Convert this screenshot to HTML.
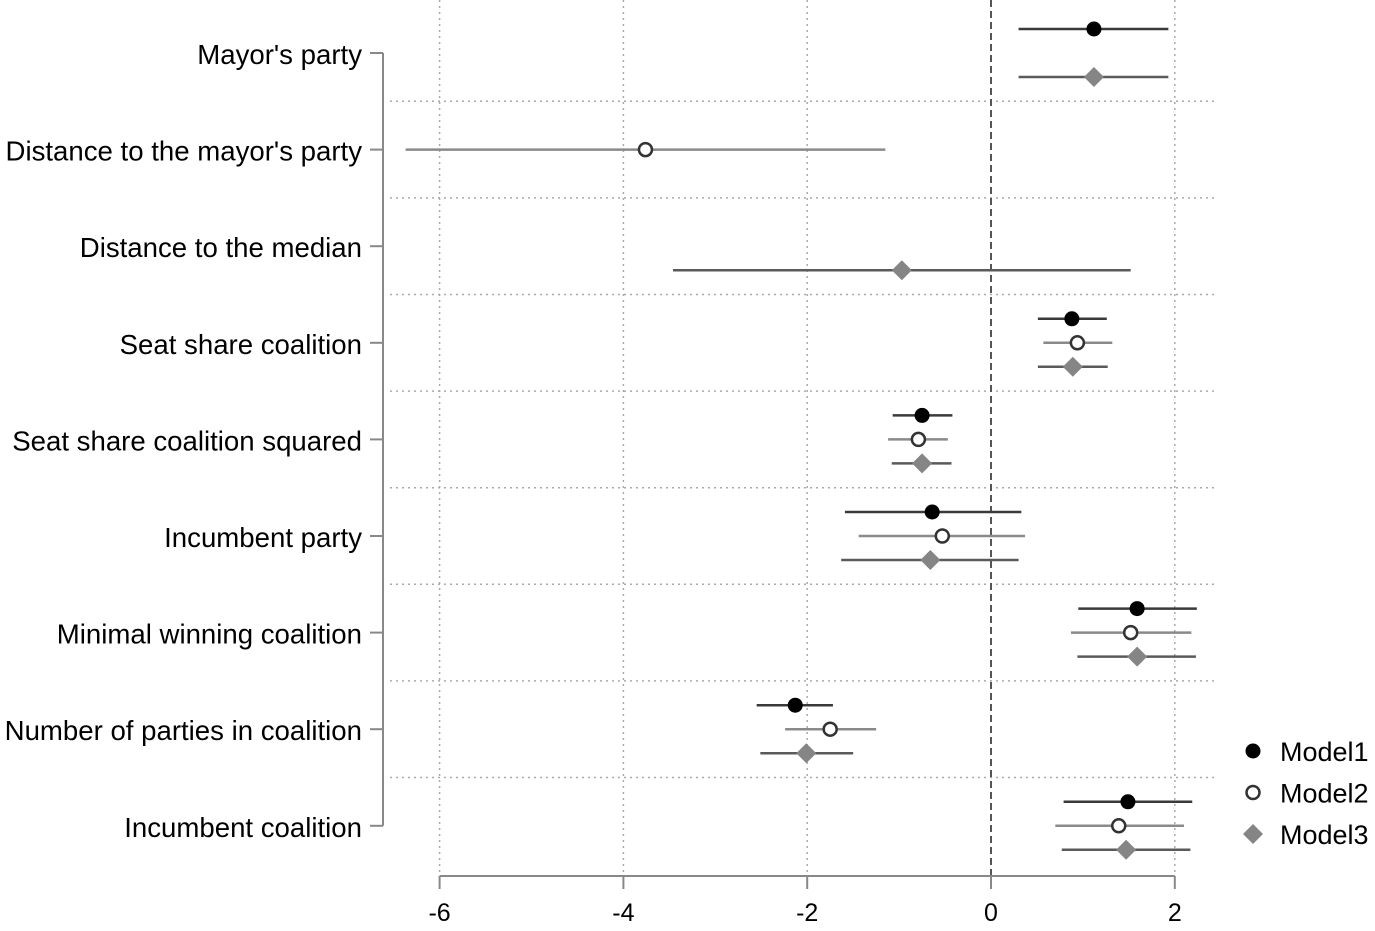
<!DOCTYPE html>
<html><head><meta charset="utf-8"><style>
html,body{margin:0;padding:0;background:#fff;}
svg text{font-family:"Liberation Sans",Arial,sans-serif;fill:#000;}
</style></head><body>
<svg id="chart" width="1375" height="926" viewBox="0 0 1375 926" xmlns="http://www.w3.org/2000/svg"></svg>
<script>
const categories=["Mayor's party","Distance to the mayor's party","Distance to the median","Seat share coalition","Seat share coalition squared","Incumbent party","Minimal winning coalition","Number of parties in coalition","Incumbent coalition"];
const models=["Model1","Model2","Model3"];
// [estimate, low, high] per category; null = not in model
const model1=[[1.12,0.30,1.93],null,null,[0.88,0.51,1.26],[-0.75,-1.07,-0.42],[-0.64,-1.59,0.33],[1.59,0.95,2.24],[-2.13,-2.55,-1.72],[1.49,0.79,2.19]];
const model2=[null,[-3.76,-6.37,-1.15],null,[0.94,0.57,1.32],[-0.79,-1.12,-0.47],[-0.53,-1.44,0.37],[1.52,0.87,2.18],[-1.75,-2.24,-1.25],[1.39,0.70,2.10]];
const model3=[[1.12,0.30,1.93],null,[-0.97,-3.46,1.52],[0.89,0.51,1.27],[-0.75,-1.08,-0.43],[-0.66,-1.63,0.30],[1.59,0.94,2.23],[-2.01,-2.51,-1.50],[1.47,0.77,2.17]];
const xTicks=[-6,-4,-2,0,2];
const NS="http://www.w3.org/2000/svg";
const svg=document.getElementById('chart');
const X=v=>991+v*91.9;
const Yc=i=>53+i*96.6;
function el(t,a,p){const e=document.createElementNS(NS,t);for(const k in a)e.setAttribute(k,a[k]);(p||svg).appendChild(e);return e;}
xTicks.forEach(t=>{
 if(t!==0){const g=el('line',{x1:X(t),x2:X(t),y1:0,y2:876,stroke:'#aaa','stroke-width':1.5,'stroke-dasharray':'2,4'});
 
 }
});
for(let i=0;i<categories.length-1;i++){
 const y=(Yc(i)+Yc(i+1))/2;
 const g=el('line',{x1:390,x2:1217,y1:y,y2:y,stroke:'#aaa','stroke-width':1.5,'stroke-dasharray':'2,4'});
 
 
}
const z=el('line',{x1:X(0),x2:X(0),y1:0,y2:876,stroke:'#555','stroke-width':2,'stroke-dasharray':'7,4'});


const ya=el('line',{x1:383,x2:383,y1:Yc(0),y2:Yc(8),stroke:'#888','stroke-width':2});


categories.forEach((c,i)=>{
 const tk=el('line',{x1:370,x2:383,y1:Yc(i),y2:Yc(i),stroke:'#888','stroke-width':2});
 
 
 const t=el('text',{x:362,y:Yc(i)+11,'text-anchor':'end','font-size':27.6});
 t.textContent=c;
 
 
});
const xa=el('line',{x1:X(-6),x2:X(2),y1:876,y2:876,stroke:'#888','stroke-width':2});


xTicks.forEach(t=>{
 const tk=el('line',{x1:X(t),x2:X(t),y1:876,y2:889,stroke:'#888','stroke-width':2});
 
 
 const tl=el('text',{x:X(t),y:921,'text-anchor':'middle','font-size':25});
 tl.textContent=String(t);
 
 
});
const lineCol=['#3a3a3a','#8a8a8a','#5a5a5a'];
function marker(kind,x,y,parent){
 if(kind===0)return el('circle',{cx:x,cy:y,r:7.5,fill:'#000'},parent);
 if(kind===1)return el('circle',{cx:x,cy:y,r:6.5,fill:'#fff',stroke:'#333','stroke-width':2.5},parent);
 return el('polygon',{points:`${x},${y-10} ${x+10},${y} ${x},${y+10} ${x-10},${y}`,fill:'#858585'},parent);
}
[model1,model2,model3].forEach((data,m)=>{
 data.forEach((d,i)=>{
  if(!d)return;
  const y=Yc(i)+(m-1)*24;
  const g=el('g',{});
  
  
  el('line',{x1:X(d[1]),x2:X(d[2]),y1:y,y2:y,stroke:lineCol[m],'stroke-width':2.5},g);
  marker(m,X(d[0]),y,g);
 });
});
models.forEach((name,m)=>{
 const y=751+m*41.5;
 const g=el('g',{});
 
 
 marker(m,1253,y,g);
 const t=el('text',{x:1280,y:y+10,'font-size':27},g);
 t.textContent=name;
});
</script>
</body></html>
